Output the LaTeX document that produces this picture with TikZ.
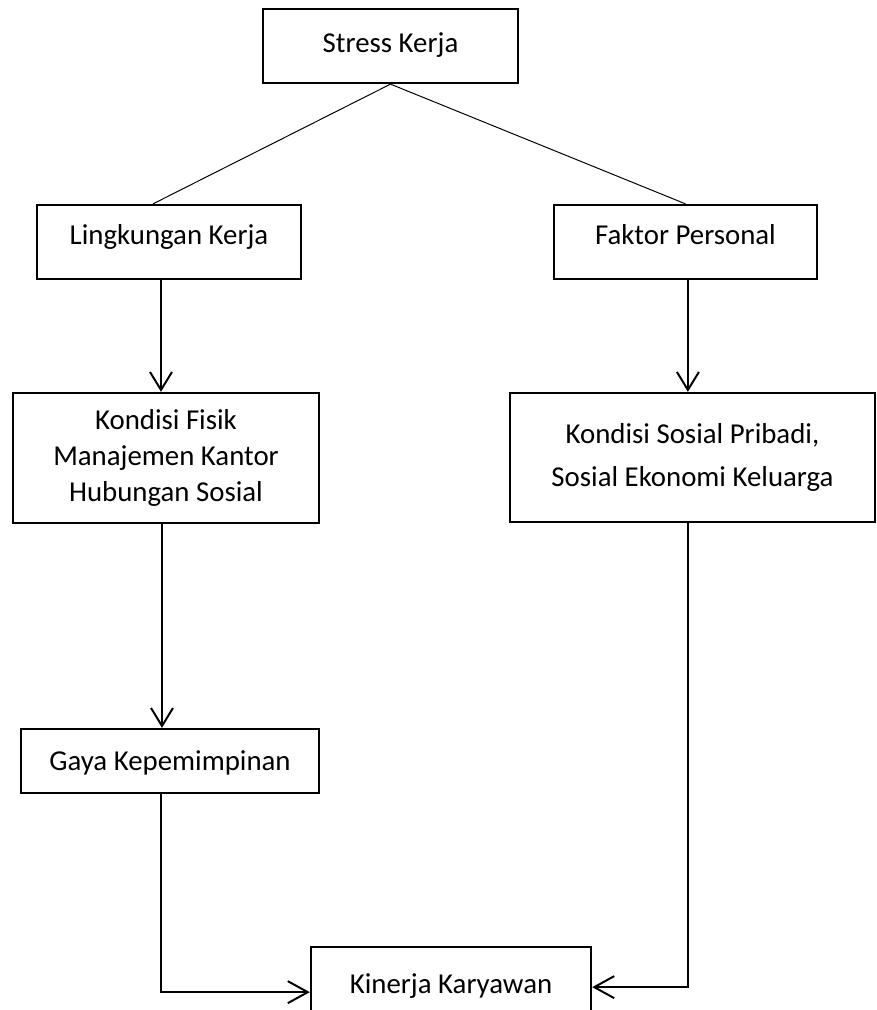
\documentclass[tikz,border=0pt]{standalone}
\usepackage{fontspec}
\setmainfont{Carlito}
\usepackage{tikz}
\usetikzlibrary{arrows.meta, positioning, calc}

\begin{document}
\begin{tikzpicture}[
    x=0.025cm, y=-0.025cm,
    kotak/.style={draw, line width=1.6pt, align=center, inner sep=0pt, font=\fontsize{20.5}{25.6}\selectfont},
    satu/.style={text height=13.2pt, text depth=#1},
    satu/.default=0pt,
    garis/.style={line width=0.7pt},
    panah/.style={line width=1.4pt, -{Straight Barb[length=0.45cm, width=0.55cm]}},
    panahtipis/.style={line width=1pt, -{Straight Barb[length=0.5cm, width=0.55cm, line width=1.4pt]}}
]
    \useasboundingbox (0,0) rectangle (876,1010);
    \clip (0,0) rectangle (876,1010);

    \node[kotak, satu=4.2pt, minimum width=6.375cm, minimum height=1.85cm] (stress) at (390.5,46) {Stress Kerja};
    \node[kotak, satu=10pt, minimum width=6.6cm, minimum height=1.85cm] (lingkungan) at (169,242) {Lingkungan Kerja};
    \node[kotak, satu=10pt, minimum width=6.575cm, minimum height=1.85cm] (personal) at (685.5,242) {Faktor Personal};
    \node[kotak, minimum width=7.65cm, minimum height=3.25cm] (fisik) at (166,458) {Kondisi Fisik\\Manajemen Kantor\\Hubungan Sosial};
    \node[kotak, minimum width=9.125cm, minimum height=3.225cm] (sosial) at (692.5,457.5) {Kondisi Sosial Pribadi,\\[5pt]Sosial Ekonomi Keluarga};
    \node[kotak, satu, minimum width=7.45cm, minimum height=1.6cm] (gaya) at (170,761) {Gaya Kepemimpinan};
    \node[kotak, satu, minimum width=7cm, minimum height=1.85cm, anchor=north] (kinerja) at (451,946) {Kinerja Karyawan};

    % percabangan dari stress kerja
    \draw[garis] (stress.south) -- ([xshift=-0.4cm]lingkungan.north);
    \draw[garis] (stress.south) -- (personal.north);

    \draw[panah] ([xshift=-0.2cm]lingkungan.south) -- ([xshift=-0.2cm]lingkungan.south |- fisik.north);
    \draw[panah] ([xshift=0.06cm]personal.south) -- ([xshift=0.06cm]personal.south |- sosial.north);
    \draw[panah] ([xshift=-0.1cm]fisik.south) -- ([xshift=-0.1cm]fisik.south |- gaya.north);

    % menuju kinerja karyawan
    \draw[panahtipis] ([xshift=-0.225cm]gaya.south) |- ([yshift=-0.2cm]kinerja.west);
    \draw[panahtipis] ([xshift=-0.11cm]sosial.south) |- ([yshift=-0.075cm]kinerja.east);
\end{tikzpicture}
\end{document}
